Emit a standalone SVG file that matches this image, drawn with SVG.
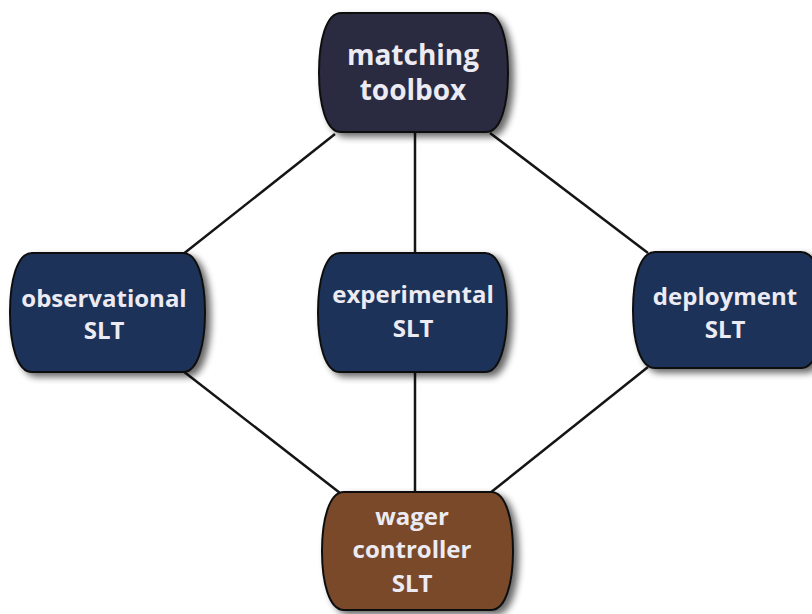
<svg xmlns="http://www.w3.org/2000/svg" width="812" height="614" viewBox="0 0 812 614">
  <defs>
    <filter id="shadow" x="-10%" y="-10%" width="130%" height="130%">
      <feGaussianBlur in="SourceAlpha" stdDeviation="3.5"/>
      <feOffset dx="5" dy="4" result="blur"/>
      <feComponentTransfer><feFuncA type="linear" slope="0.6"/></feComponentTransfer>
      <feMerge><feMergeNode/><feMergeNode in="SourceGraphic"/></feMerge>
    </filter>
  </defs>
  <style>
    .box { stroke: #111; stroke-width: 2; filter: url(#shadow); }
    .hub { fill: #2c2940; }
    .slt { fill: #1f3358; }
    .wager { fill: #7a4a2c; }
    .lbl { font-family: "Open Sans", "Noto Sans", sans-serif; font-weight: bold; fill: #ecebf3; text-anchor: middle; }
    .link { stroke: #151515; stroke-width: 2.5; fill: none; }
  </style>
  <rect width="812" height="614" fill="#ffffff"/>

  <g id="connectors">
    <line class="link" x1="335" y1="134" x2="182" y2="255"/>
    <line class="link" x1="415" y1="132" x2="415" y2="253"/>
    <line class="link" x1="490" y1="133" x2="648" y2="253"/>
    <line class="link" x1="183" y1="371" x2="340" y2="493"/>
    <line class="link" x1="415" y1="372" x2="415" y2="492"/>
    <line class="link" x1="648" y1="367" x2="490" y2="493"/>
  </g>

  <!-- boxes: flat top and bottom, softly bulging sides -->
  <g id="matching-toolbox">
    <path class="box hub" d="M341,13 h145 c15,0 22,28 22,59.5 c0,31.5 -7,59.5 -22,59.5 h-145 c-15,0 -22,-28 -22,-59.5 c0,-31.5 7,-59.5 22,-59.5 z"/>
    <text class="lbl" x="413" y="65" font-size="28">matching</text>
    <text class="lbl" x="413" y="100" font-size="28">toolbox</text>
  </g>

  <g id="observational-slt">
    <path class="box slt" d="M32,253 h151 c15,0 22,28 22,59.5 c0,31.5 -7,59.5 -22,59.5 h-151 c-15,0 -22,-28 -22,-59.5 c0,-31.5 7,-59.5 22,-59.5 z"/>
    <text class="lbl" x="104" y="307" font-size="24">observational</text>
    <text class="lbl" x="104" y="339" font-size="24">SLT</text>
  </g>

  <g id="experimental-slt">
    <path class="box slt" d="M340,253 h145 c15,0 22,28 22,59.5 c0,31.5 -7,59.5 -22,59.5 h-145 c-15,0 -22,-28 -22,-59.5 c0,-31.5 7,-59.5 22,-59.5 z"/>
    <text class="lbl" x="413" y="303" font-size="24">experimental</text>
    <text class="lbl" x="413" y="337" font-size="24">SLT</text>
  </g>

  <g id="deployment-slt">
    <path class="box slt" d="M655,252 h146 c15,0 22,27 22,58 c0,31 -7,58 -22,58 h-146 c-15,0 -22,-27 -22,-58 c0,-31 7,-58 22,-58 z"/>
    <text class="lbl" x="725" y="305" font-size="24">deployment</text>
    <text class="lbl" x="725" y="338" font-size="24">SLT</text>
  </g>

  <g id="wager-controller-slt">
    <path class="box wager" d="M344,492 h147 c15,0 22,28 22,59 c0,31 -7,59 -22,59 h-147 c-15,0 -22,-28 -22,-59 c0,-31 7,-59 22,-59 z"/>
    <text class="lbl" x="412" y="525" font-size="24">wager</text>
    <text class="lbl" x="412" y="558" font-size="24">controller</text>
    <text class="lbl" x="412" y="592" font-size="24">SLT</text>
  </g>
</svg>
